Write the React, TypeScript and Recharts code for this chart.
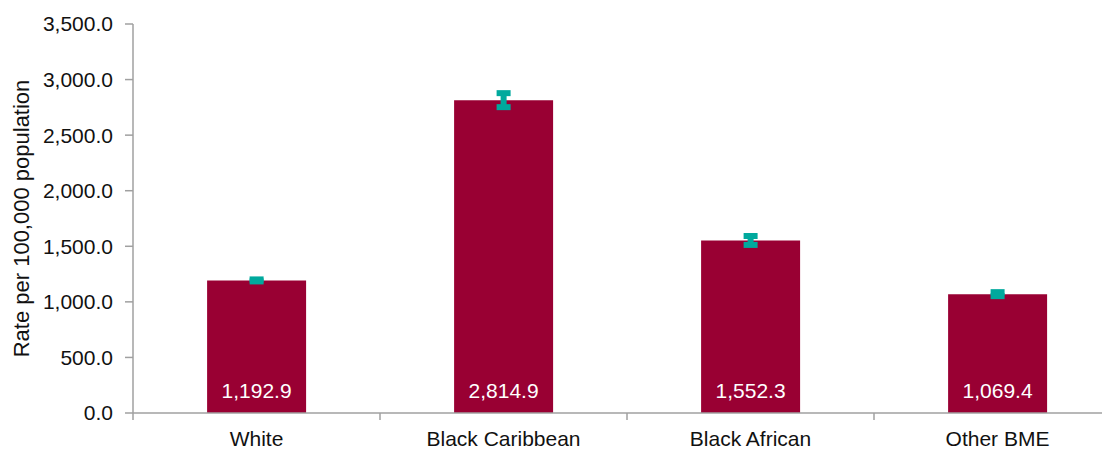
import { BarChart, Bar, XAxis, YAxis, ErrorBar, LabelList } from "recharts";

const groups = ["White", "Black Caribbean", "Black African", "Other BME"];
const rates = [1192.9, 2814.9, 1552.3, 1069.4];
// half-width of the confidence interval
const ciHalf = [9, 63, 40, 18];
const yTicks = [0, 500, 1000, 1500, 2000, 2500, 3000, 3500];

const data = groups.map((group, i) => ({ group, rate: rates[i], ci: ciHalf[i] }));

const BAR = "#990033";
const CI = "#00A99D";
const AXIS = "#a0a0a0";
const TEXT = "#111111";
const FONT = "'Liberation Sans', Arial, sans-serif";

function fmt(v: number) {
  return v.toLocaleString("en-US", { minimumFractionDigits: 1, maximumFractionDigits: 1 });
}

// category ticks sit on the band edges, labels in the middle
// eslint-disable-next-line @typescript-eslint/no-explicit-any
function GroupTick(props: any) {
  const { x, y, payload, width, visibleTicksCount } = props;
  const band = width / visibleTicksCount;
  const edge = x - band / 2;
  return (
    <g>
      <line x1={edge} x2={edge} y1={y} y2={y + 7} stroke={AXIS} strokeWidth={1.5} />
      <text x={x} y={y + 33} textAnchor="middle" fill={TEXT} fontSize={21} fontFamily={FONT}>
        {payload.value}
      </text>
    </g>
  );
}

// eslint-disable-next-line @typescript-eslint/no-explicit-any
function AxisTitle(props: any) {
  const { viewBox } = props;
  const cy = viewBox.y + viewBox.height / 2;
  return (
    <text
      x={21}
      y={cy}
      transform={`rotate(-90, 21, ${cy})`}
      textAnchor="middle"
      fill={TEXT}
      fontSize={22}
      fontFamily={FONT}
    >
      Rate per 100,000 population
    </text>
  );
}

export default function App() {
  return (
    <div style={{ width: 1095, height: 442, overflow: "hidden", fontFamily: FONT }}>
      <BarChart
        width={1113}
        height={442}
        data={data}
        margin={{ top: 16, right: 0, bottom: 0, left: 0 }}
        barCategoryGap="30%"
      >
        <XAxis
          dataKey="group"
          interval={0}
          height={37}
          tickSize={0}
          tickMargin={0}
          tickLine={false}
          axisLine={{ stroke: AXIS, strokeWidth: 1.5 }}
          tick={<GroupTick />}
        />
        <YAxis
          width={125}
          domain={[0, 3500]}
          ticks={yTicks}
          interval={0}
          tickSize={8}
          tickMargin={12}
          tickFormatter={fmt}
          axisLine={{ stroke: AXIS, strokeWidth: 1.5 }}
          tickLine={{ stroke: AXIS, strokeWidth: 1.5 }}
          tick={{ fill: TEXT, fontSize: 21, fontFamily: FONT }}
          label={{ content: <AxisTitle /> }}
        />
        <Bar dataKey="rate" fill={BAR} isAnimationActive={false}>
          <LabelList
            dataKey="rate"
            position="insideBottom"
            offset={15}
            formatter={(v: number) => fmt(v)}
            fill="#ffffff"
            fontSize={21}
            fontFamily={FONT}
          />
          <ErrorBar
            dataKey="ci"
            direction="y"
            width={7}
            strokeWidth={6}
            stroke={CI}
            isAnimationActive={false}
          />
        </Bar>
      </BarChart>
    </div>
  );
}
